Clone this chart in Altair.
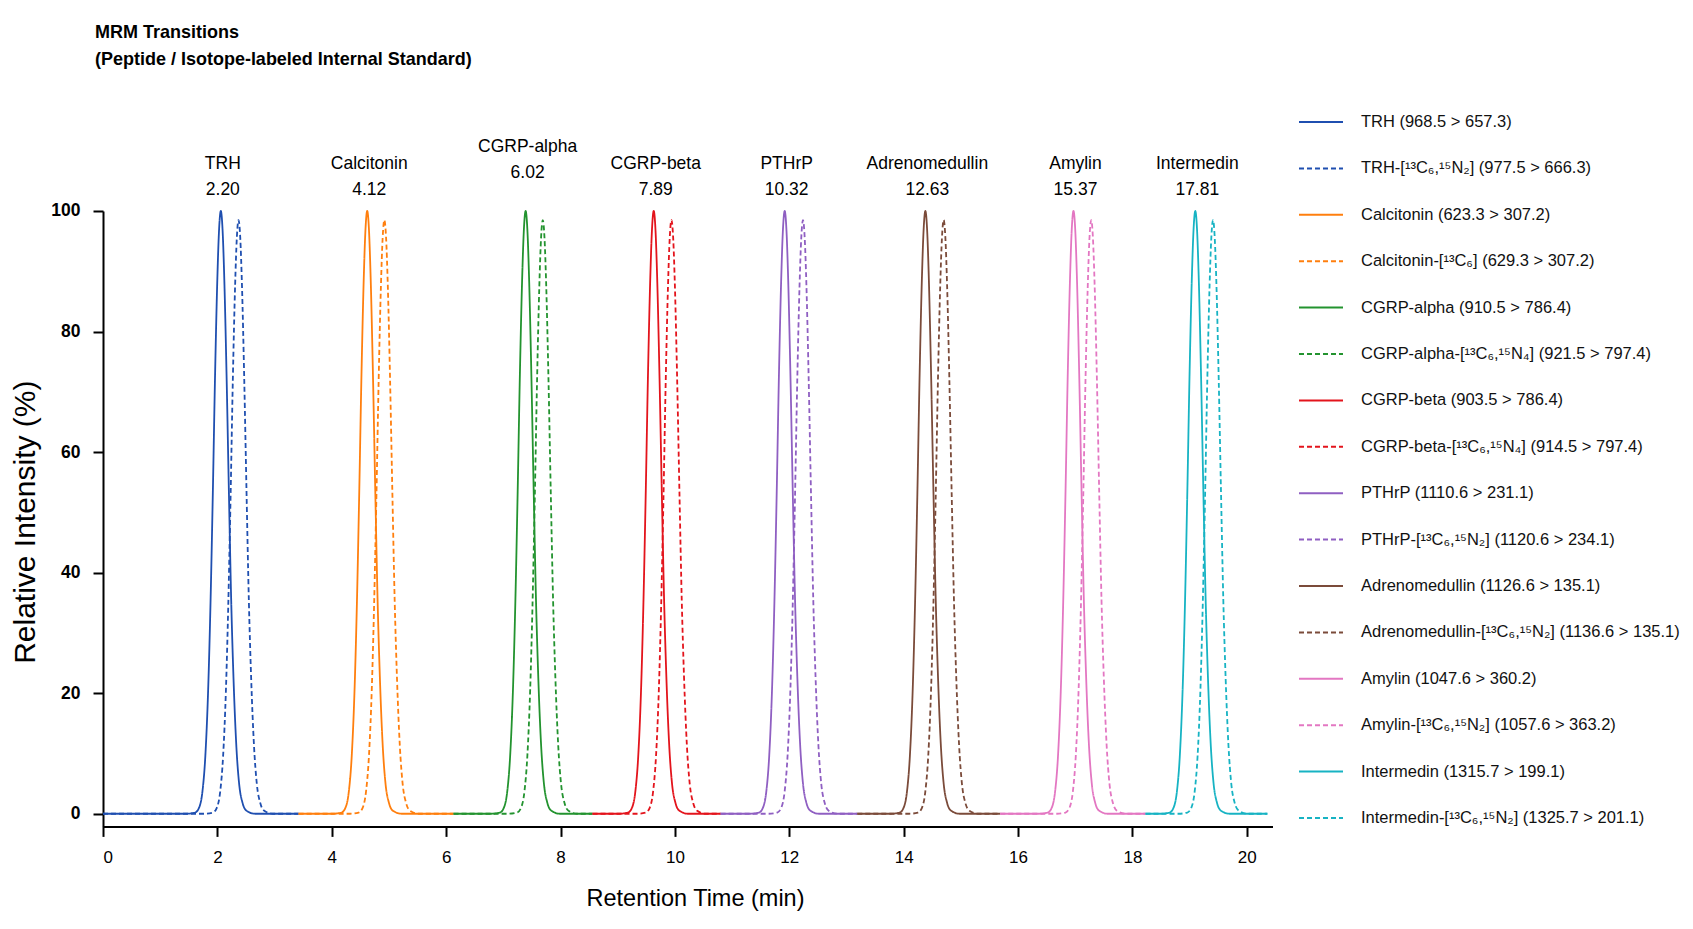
import altair as alt
import pandas as pd

# ---------------- data ----------------
PEPTIDES = ["TRH", "Calcitonin", "CGRP-alpha", "CGRP-beta", "PTHrP",
            "Adrenomedullin", "Amylin", "Intermedin"]
LABEL_RT = [2.20, 4.12, 6.02, 7.89, 10.32, 12.63, 15.37, 17.81]

PEAK_RT = [2.06, 4.62, 7.39, 9.63, 11.92, 14.38, 16.97, 19.10]
IS_PEAK_RT = [2.37, 4.92, 7.69, 9.94, 12.24, 14.70, 17.28, 19.41]
PEAK_HEIGHT = [100, 100, 100, 100, 100, 100, 100, 100]
IS_PEAK_HEIGHT = [98.5, 98.5, 98.5, 98.5, 98.5, 98.5, 98.5, 98.5]

# baseline segment edges (min) where each colour's trace starts / ends
SEGMENT_EDGES = [0.0, 3.42, 6.13, 8.56, 10.80, 13.19, 15.69, 18.23, 20.36]

# peak shape read from the TRH peak: offset from apex (min) -> % of apex
PROFILE_OFFSET = [-0.60, -0.45, -0.38, -0.32, -0.27, -0.22, -0.18, -0.14, -0.10,
                  -0.06, -0.03, 0.0, 0.03, 0.06, 0.10, 0.14, 0.18, 0.22, 0.27,
                  0.32, 0.38, 0.45, 0.60]
PROFILE_LEVEL = [0.0, 0.2, 1.0, 3.8, 9.7, 21, 35, 53, 73,
                 89, 97, 100, 97, 89, 73, 54, 36, 23, 11.5,
                 5.0, 1.8, 0.5, 0.0]

PEPTIDE_LEGEND = [
    "TRH (968.5 > 657.3)",
    "Calcitonin (623.3 > 307.2)",
    "CGRP-alpha (910.5 > 786.4)",
    "CGRP-beta (903.5 > 786.4)",
    "PTHrP (1110.6 > 231.1)",
    "Adrenomedullin (1126.6 > 135.1)",
    "Amylin (1047.6 > 360.2)",
    "Intermedin (1315.7 > 199.1)",
]
IS_LEGEND = [
    "TRH-[¹³C₆,¹⁵N₂] (977.5 > 666.3)",
    "Calcitonin-[¹³C₆] (629.3 > 307.2)",
    "CGRP-alpha-[¹³C₆,¹⁵N₄] (921.5 > 797.4)",
    "CGRP-beta-[¹³C₆,¹⁵N₄] (914.5 > 797.4)",
    "PTHrP-[¹³C₆,¹⁵N₂] (1120.6 > 234.1)",
    "Adrenomedullin-[¹³C₆,¹⁵N₂] (1136.6 > 135.1)",
    "Amylin-[¹³C₆,¹⁵N₂] (1057.6 > 363.2)",
    "Intermedin-[¹³C₆,¹⁵N₂] (1325.7 > 201.1)",
]
COLORS = ["#1f4fb0", "#ff7f0e", "#23932f", "#e3141c", "#8f5fc2",
          "#7b4b3a", "#e377c2", "#17b3c3"]

# ---------------- build tables ----------------
rows = []
series_order, color_range, dash_range = [], [], []
for i in range(len(PEPTIDES)):
    lo, hi = SEGMENT_EDGES[i], SEGMENT_EDGES[i + 1]
    for name, center, height, dash in (
        (PEPTIDE_LEGEND[i], PEAK_RT[i], PEAK_HEIGHT[i], [1, 0]),
        (IS_LEGEND[i], IS_PEAK_RT[i], IS_PEAK_HEIGHT[i], [5, 3]),
    ):
        series_order.append(name)
        color_range.append(COLORS[i])
        dash_range.append(dash)
        rows.append({"series": name, "t": lo, "y": 0.0})
        for off, lev in zip(PROFILE_OFFSET, PROFILE_LEVEL):
            t = center + off
            if lo < t < hi:
                rows.append({"series": name, "t": t, "y": height * lev / 100.0})
        rows.append({"series": name, "t": hi, "y": 0.0})
traces = pd.DataFrame(rows)

labels = pd.DataFrame({
    "name": PEPTIDES,
    "rt": [f"{v:.2f}" for v in LABEL_RT],
    "t": PEAK_RT,
    "y": PEAK_HEIGHT,
})

FONT = "Liberation Sans, Arial, sans-serif"
W, H = 1169.5, 615.4

x_scale = alt.Scale(domain=[0, 20.45], nice=False, zero=False)
y_scale = alt.Scale(domain=[-2.1, 100], nice=False)

lines = alt.Chart(traces).mark_line(strokeWidth=1.8, interpolate="monotone").encode(
    x=alt.X("t:Q", scale=x_scale,
            axis=alt.Axis(values=list(range(0, 21, 2)), format="d",
                          title="Retention Time (min)",
                          labelFontSize=17, labelPadding=13,
                          titleFontSize=23.5, titleFontWeight="normal",
                          titleX=592, titleY=72, titleBaseline="middle")),
    y=alt.Y("y:Q", scale=y_scale,
            axis=alt.Axis(values=[0, 20, 40, 60, 80, 100], format="d",
                          title="Relative Intensity (%)",
                          labelFontSize=17.5, labelFontWeight="bold", labelPadding=13,
                          titleFontSize=30, titleFontWeight="normal",
                          titleX=-78, titleY=H / 2 + 3, titleBaseline="middle",
                          titleAngle=-90)),
    color=alt.Color("series:N", scale=alt.Scale(domain=series_order, range=color_range),
                    legend=alt.Legend(title=None)),
    strokeDash=alt.StrokeDash("series:N",
                              scale=alt.Scale(domain=series_order, range=dash_range),
                              legend=alt.Legend(title=None)),
    detail="series:N",
)


def label_layer(keep_raised, field, dy):
    cond = (alt.datum.name == "CGRP-alpha") if keep_raised else (alt.datum.name != "CGRP-alpha")
    return alt.Chart(labels).transform_filter(cond).mark_text(
        font=FONT, fontSize=17.5, baseline="middle", align="center", dx=2, dy=dy,
        color="black"
    ).encode(x=alt.X("t:Q", scale=x_scale), y=alt.Y("y:Q", scale=y_scale),
             text=f"{field}:N")


chart = alt.layer(
    lines,
    label_layer(False, "name", -47), label_layer(False, "rt", -21),
    label_layer(True, "name", -64), label_layer(True, "rt", -38),
).properties(
    width=W, height=H,
    title=alt.TitleParams(
        ["MRM Transitions", "(Peptide / Isotope-labeled Internal Standard)"],
        anchor="start", frame="group", dx=-8, offset=12, font=FONT, fontSize=18,
        fontWeight="bold", lineHeight=27, color="black", baseline="bottom"),
    autosize=alt.AutoSizeParams(type="none"),
    padding={"left": 103, "top": 211, "right": 420, "bottom": 103},
    background="white",
).configure_view(stroke=None).configure_axis(
    grid=False, domainColor="black", domainWidth=2, tickColor="black", tickWidth=2,
    tickSize=10, labelColor="black", titleColor="black", labelFont=FONT, titleFont=FONT,
).configure_legend(
    orient="none", legendX=1195, legendY=-112, symbolType="stroke", symbolSize=1936,
    symbolStrokeWidth=2, labelFont=FONT, labelFontSize=16.5, labelLimit=500,
    labelOffset=17, rowPadding=14.4, labelColor="#111111",
)

chart.save("out.html", embed_options={"renderer": "svg", "actions": False})
